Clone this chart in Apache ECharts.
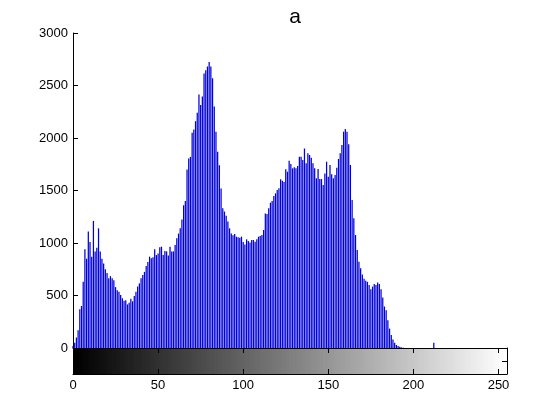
<!DOCTYPE html>
<html>
<head>
<meta charset="utf-8">
<script src="https://cdn.jsdelivr.net/npm/echarts@6/dist/echarts.min.js"></script>
<style>html,body{margin:0;padding:0;background:#fff}#c{width:560px;height:420px}</style>
</head>
<body>
<div id="c"></div>
<script>
const titleText = 'a';
const yTicks = [0, 500, 1000, 1500, 2000, 2500, 3000];
const xTicks = [0, 50, 100, 150, 200, 250];
// histogram counts for gray levels 0..255
const counts = [
  20, 50, 100, 170, 370, 400, 630, 940, 850, 1110,
  1010, 870, 1210, 920, 955, 1140, 920, 850, 805, 750,
  715, 665, 685, 665, 645, 580, 550, 535, 505, 475,
  450, 455, 415, 430, 470, 445, 495, 535, 585, 615,
  665, 695, 725, 780, 820, 870, 855, 865, 940, 885,
  900, 960, 965, 885, 925, 920, 880, 965, 920, 920,
  980, 1045, 1090, 1140, 1225, 1360, 1400, 1700, 1805, 1820,
  2050, 2080, 2160, 2240, 2415, 2315, 2395, 2615, 2645, 2680,
  2725, 2680, 2570, 2300, 2060, 1870, 1740, 1520, 1330, 1300,
  1260, 1205, 1140, 1090, 1075, 1085, 1060, 1055, 1050, 1060,
  1010, 985, 1035, 1020, 1005, 1028, 1028, 1013, 1035, 1060,
  1067, 1076, 1124, 1282, 1276, 1330, 1384, 1400, 1448, 1473,
  1505, 1521, 1606, 1594, 1580, 1702, 1679, 1784, 1752, 1711,
  1721, 1711, 1733, 1822, 1822, 1790, 1900, 1759, 1854, 1838,
  1813, 1759, 1711, 1616, 1705, 1609, 1609, 1552, 1663, 1774,
  1632, 1743, 1654, 1616, 1648, 1717, 1800, 1854, 1933, 2060,
  2085, 2060, 1940, 1743, 1409, 1235, 1076, 933, 822, 759,
  700, 660, 640, 630, 600, 560, 585, 610, 600, 625,
  610, 560, 480, 395, 360, 265, 185, 125, 80, 50,
  28, 18, 12, 6, 3, 0, 0, 0, 0, 0,
  0, 0, 0, 0, 0, 0, 0, 0, 0, 0,
  0, 0, 50, 0, 0, 0, 0, 0, 0, 0,
  0, 0, 0, 0, 0, 0, 0, 0, 0, 0,
  0, 0, 0, 0, 0, 0, 0, 0, 0, 0,
  0, 0, 0, 0, 0, 0, 0, 0, 0, 0,
  0, 0, 0, 0, 0, 0
];
const histData = counts.map((v, i) => [i, v]);
const grayLevels = counts.map((v, i) => [i, 1]);

const FONT = 'Liberation Sans, Arial, Helvetica, sans-serif';
const chart = echarts.init(document.getElementById('c'), null, {renderer: 'canvas'});
chart.setOption({
  backgroundColor: '#fff',
  animation: false,
  title: {
    text: titleText, left: 290, top: 2, textAlign: 'center',
    textStyle: {fontFamily: FONT, fontSize: 21, fontWeight: 'normal', color: '#000'}
  },
  grid: [
    {left: 73, top: 33, width: 434, height: 315},
    {left: 73, top: 348, width: 434, height: 26}
  ],
  xAxis: [
    {gridIndex: 0, type: 'value', min: 0, max: 255, show: false},
    {gridIndex: 1, type: 'value', min: 0, max: 255, interval: 50, position: 'bottom', z: 10,
     axisLine: {show: true, onZero: false, lineStyle: {color: '#000', width: 1}},
     axisTick: {show: true, inside: true, length: 5, lineStyle: {color: '#000'}},
     axisLabel: {show: true, color: '#000', fontFamily: FONT, fontSize: 13, margin: 5,
       formatter: v => xTicks.includes(v) ? String(v) : ''},
     splitLine: {show: false}},
    {gridIndex: 1, type: 'value', min: 0, max: 255, interval: 50, position: 'top', z: 10,
     axisLine: {show: true, onZero: false, lineStyle: {color: '#000', width: 1}},
     axisTick: {show: true, inside: true, length: 5, lineStyle: {color: '#000'}},
     axisLabel: {show: false}, splitLine: {show: false}}
  ],
  yAxis: [
    {gridIndex: 0, type: 'value', min: 0, max: 3000, interval: 500,
     axisLine: {show: true, lineStyle: {color: '#000', width: 1}},
     axisTick: {show: true, inside: true, length: 5, lineStyle: {color: '#000'}},
     axisLabel: {color: '#000', fontFamily: FONT, fontSize: 13, margin: 5,
       formatter: v => yTicks.includes(v) ? String(v) : ''},
     splitLine: {show: false}},
    {gridIndex: 1, type: 'value', min: 0, max: 2, interval: 1, position: 'left', z: 10,
     axisLine: {show: true, onZero: false, lineStyle: {color: '#000', width: 1}},
     axisTick: {show: true, inside: true, length: 5, lineStyle: {color: '#000'}},
     axisLabel: {show: false}, splitLine: {show: false}},
    {gridIndex: 1, type: 'value', min: 0, max: 2, interval: 1, position: 'right', z: 10,
     axisLine: {show: true, onZero: false, lineStyle: {color: '#000', width: 1}},
     axisTick: {show: true, inside: true, length: 5, lineStyle: {color: '#000'}},
     axisLabel: {show: false}, splitLine: {show: false}}
  ],
  series: [
    {type: 'bar', xAxisIndex: 0, yAxisIndex: 0, data: histData, barWidth: 1.25,
     itemStyle: {color: '#0000dc'}, z: 2},
    {type: 'custom', xAxisIndex: 1, yAxisIndex: 1, data: grayLevels, clip: true, z: 1,
     renderItem: function (params, api) {
       const b = api.value(0);
       const p0 = api.coord([b - 0.5, 2]);
       const p1 = api.coord([b + 0.5, 0]);
       const g = Math.round(b);
       const c = 'rgb(' + g + ',' + g + ',' + g + ')';
       return {type: 'rect',
         shape: {x: p0[0], y: p0[1], width: p1[0] - p0[0] + 1, height: p1[1] - p0[1]},
         style: {fill: c, stroke: c, lineWidth: 0.5}};
     }}
  ]
});
</script>
</body>
</html>
